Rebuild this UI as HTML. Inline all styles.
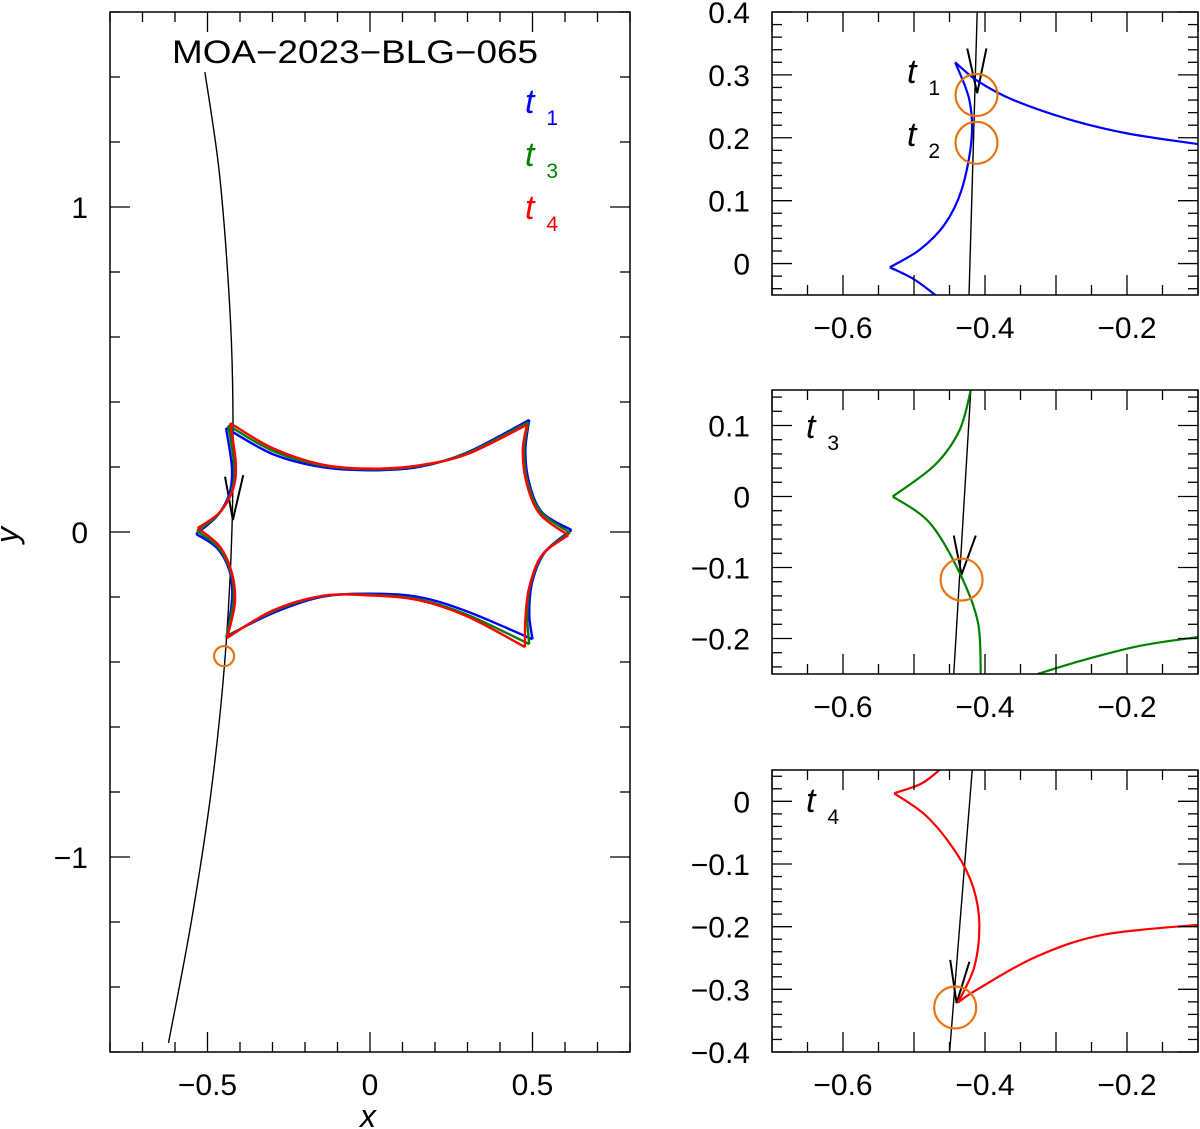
<!DOCTYPE html>
<html><head><meta charset="utf-8"><style>
html,body{margin:0;padding:0;background:#fff}
svg{display:block}
text{font-family:"Liberation Sans",sans-serif;fill:#000}
</style></head><body>
<svg id="fig" width="1200" height="1129" viewBox="0 0 1200 1129"></svg>
<script>
// ---- data (data coordinates) ----
const mainXTicks=[-0.5,0,0.5];
const mainXTickLabels=["\u22120.5","0","0.5"];
const mainYTicks=[1,0,-1];
const mainYTickLabels=["1","0","\u22121"];
const zoomXTicks=[-0.6,-0.4,-0.2];
const zoomXTickLabels=["\u22120.6","\u22120.4","\u22120.2"];
const p1YTicks=[0.4,0.3,0.2,0.1,0];
const p1YTickLabels=["0.4","0.3","0.2","0.1","0"];
const p2YTicks=[0.1,0,-0.1,-0.2];
const p2YTickLabels=["0.1","0","\u22120.1","\u22120.2"];
const p3YTicks=[0,-0.1,-0.2,-0.3,-0.4];
const p3YTickLabels=["0","\u22120.1","\u22120.2","\u22120.3","\u22120.4"];

// main caustics: segments between cusps
const causticBlue=[
 [[-0.535,-0.006],[-0.47,0.05],[-0.432,0.12],[-0.425,0.2],[-0.443,0.32]],
 [[-0.443,0.32],[-0.3,0.24],[-0.15,0.2],[0,0.19],[0.15,0.2],[0.3,0.245],[0.49,0.345]],
 [[0.49,0.345],[0.478,0.25],[0.49,0.15],[0.53,0.06],[0.62,0.006]],
 [[0.62,0.006],[0.54,-0.06],[0.5,-0.15],[0.49,-0.25],[0.5,-0.33]],
 [[0.5,-0.33],[0.3,-0.245],[0.15,-0.2],[0,-0.19],[-0.15,-0.2],[-0.3,-0.25],[-0.44,-0.32]],
 [[-0.44,-0.32],[-0.424,-0.2],[-0.432,-0.12],[-0.47,-0.05],[-0.535,-0.006]]];
const causticGreen=[
 [[-0.532,0.003],[-0.466,0.055],[-0.426,0.125],[-0.418,0.205],[-0.436,0.328]],
 [[-0.436,0.328],[-0.3,0.25],[-0.15,0.205],[0,0.193],[0.15,0.203],[0.3,0.243],[0.487,0.338]],
 [[0.487,0.338],[0.474,0.25],[0.486,0.15],[0.527,0.06],[0.615,-0.002]],
 [[0.615,-0.002],[0.535,-0.065],[0.494,-0.16],[0.484,-0.26],[0.49,-0.345]],
 [[0.49,-0.345],[0.3,-0.255],[0.15,-0.207],[0,-0.193],[-0.15,-0.198],[-0.3,-0.245],[-0.442,-0.324]],
 [[-0.442,-0.324],[-0.42,-0.21],[-0.428,-0.125],[-0.466,-0.048],[-0.532,0.003]]];
const causticRed=[
 [[-0.53,0.012],[-0.463,0.06],[-0.422,0.13],[-0.413,0.21],[-0.43,0.335]],
 [[-0.43,0.335],[-0.3,0.258],[-0.15,0.208],[0,0.195],[0.15,0.205],[0.3,0.24],[0.483,0.33]],
 [[0.483,0.33],[0.47,0.25],[0.482,0.15],[0.523,0.055],[0.61,-0.01]],
 [[0.61,-0.01],[0.53,-0.07],[0.49,-0.17],[0.478,-0.27],[0.477,-0.354]],
 [[0.477,-0.354],[0.3,-0.26],[0.15,-0.21],[0,-0.195],[-0.15,-0.197],[-0.3,-0.242],[-0.44,-0.326]],
 [[-0.44,-0.326],[-0.416,-0.22],[-0.424,-0.13],[-0.462,-0.045],[-0.53,0.012]]];
const mainTrajectory=[[-0.508,1.415],[-0.463,1.1],[-0.432,0.7],[-0.422,0.4],[-0.425,0],[-0.447,-0.4],[-0.489,-0.8],[-0.55,-1.2],[-0.62,-1.572]];
const mainArrow=[[-0.446,0.17],[-0.422,0.037],[-0.39,0.175]];
const mainSource=[-0.449,-0.382];

// zoom panel 1 (t1, t2) — blue
const p1Caustic=[
 [[-0.47,-0.05],[-0.5,-0.025],[-0.534,-0.006]],
 [[-0.534,-0.006],[-0.492,0.022],[-0.457,0.062],[-0.433,0.117],[-0.419,0.197],[-0.422,0.26],[-0.442,0.32]],
 [[-0.442,0.32],[-0.41,0.29],[-0.36,0.26],[-0.281,0.229],[-0.2,0.207],[-0.1,0.19]]];
const p1Trajectory=[[-0.411,0.4],[-0.4225,-0.05]];
const p1Arrow=[[-0.425,0.342],[-0.411,0.271],[-0.398,0.342]];
const p1Sources=[[-0.412,0.268],[-0.412,0.192]];

// zoom panel 2 (t3) — green
const p2Caustic=[
 [[-0.42,0.15],[-0.436,0.093],[-0.471,0.044],[-0.53,0.0]],
 [[-0.53,0.0],[-0.478,-0.037],[-0.436,-0.107],[-0.41,-0.177],[-0.406,-0.25]],
 [[-0.326,-0.25],[-0.26,-0.23],[-0.18,-0.21],[-0.1,-0.198]]];
const p2Trajectory=[[-0.42,0.15],[-0.444,-0.25]];
const p2Arrow=[[-0.444,-0.055],[-0.433,-0.11],[-0.413,-0.055]];
const p2Source=[-0.433,-0.117];

// zoom panel 3 (t4) — red
const p3Caustic=[
 [[-0.464,0.05],[-0.49,0.028],[-0.528,0.0128]],
 [[-0.528,0.0128],[-0.482,-0.024],[-0.44,-0.083],[-0.417,-0.136],[-0.408,-0.195],[-0.415,-0.264],[-0.438,-0.321]],
 [[-0.438,-0.321],[-0.412,-0.301],[-0.328,-0.248],[-0.234,-0.213],[-0.1,-0.197]]];
const p3Trajectory=[[-0.418,0.05],[-0.45,-0.402]];
const p3Arrow=[[-0.449,-0.253],[-0.44,-0.322],[-0.422,-0.256]];
const p3Source=[-0.442,-0.329];

// ---- drawing ----
const NS="http://www.w3.org/2000/svg";
const svg=document.getElementById('fig');
function el(tag,attrs,parent){const e=document.createElementNS(NS,tag);for(const k in attrs)e.setAttribute(k,attrs[k]);(parent||svg).appendChild(e);return e;}
function scale(d0,d1,r0,r1){return v=>r0+(v-d0)/(d1-d0)*(r1-r0);}
function spline(pts,sx,sy){
  const p=pts.map(q=>[sx(q[0]),sy(q[1])]);
  if(p.length===2)return `M${p[0][0]},${p[0][1]}L${p[1][0]},${p[1][1]}`;
  let d=`M${p[0][0].toFixed(2)},${p[0][1].toFixed(2)}`;
  for(let i=0;i<p.length-1;i++){
    const p0=p[i-1]||p[i],p1=p[i],p2=p[i+1],p3=p[i+2]||p2;
    const c1=[p1[0]+(p2[0]-p0[0])/6,p1[1]+(p2[1]-p0[1])/6];
    const c2=[p2[0]-(p3[0]-p1[0])/6,p2[1]-(p3[1]-p1[1])/6];
    d+=`C${c1[0].toFixed(2)},${c1[1].toFixed(2)} ${c2[0].toFixed(2)},${c2[1].toFixed(2)} ${p2[0].toFixed(2)},${p2[1].toFixed(2)}`;
  }
  return d;
}
let clipN=0;
function panel(name,box,xd,yd,opts){
  const g=el('g',{});
  
  
  const sx=scale(xd[0],xd[1],box.x0,box.x1), sy=scale(yd[0],yd[1],box.y1,box.y0);
  const id='clip'+(clipN++);
  const cp=el('clipPath',{id},g);el('rect',{x:box.x0,y:box.y0,width:box.x1-box.x0,height:box.y1-box.y0},cp);
  const plot=el('g',{'clip-path':`url(#${id})`},g);
  
  
  const tk=el('g',{stroke:'#000','stroke-width':1.3},g);
  
  
  const eps=1e-9;
  for(let v=Math.ceil(xd[0]/opts.xMinor-eps)*opts.xMinor;v<=xd[1]+eps;v+=opts.xMinor){
    const r=Math.abs(v/opts.xMajor-Math.round(v/opts.xMajor))<1e-6;const L=r?20:10;const X=sx(v);
    el('line',{x1:X,x2:X,y1:box.y1,y2:box.y1-L},tk);el('line',{x1:X,x2:X,y1:box.y0,y2:box.y0+L},tk);
  }
  for(let v=Math.ceil(yd[0]/opts.yMinor-eps)*opts.yMinor;v<=yd[1]+eps;v+=opts.yMinor){
    const r=Math.abs(v/opts.yMajor-Math.round(v/opts.yMajor))<1e-6;const L=r?20:10;const Y=sy(v);
    el('line',{y1:Y,y2:Y,x1:box.x0,x2:box.x0+L},tk);el('line',{y1:Y,y2:Y,x1:box.x1,x2:box.x1-L},tk);
  }
  const fr=el('rect',{x:box.x0,y:box.y0,width:box.x1-box.x0,height:box.y1-box.y0,fill:'none',stroke:'#000','stroke-width':1.5},g);
  
  
  opts.xTicks.forEach((v,i)=>{
    const t=el('text',{x:sx(v),y:box.y1+43,'font-size':30,'text-anchor':'middle'},g);t.textContent=opts.xLabels[i];
    
    
  });
  opts.yTicks.forEach((v,i)=>{
    const t=el('text',{x:box.x0-22,y:sy(v)+11,'font-size':30,'text-anchor':'end'},g);t.textContent=opts.yLabels[i];
    
    
  });
  return {g,plot,sx,sy};
}
function curve(P,segs,color,w,name){
  segs.forEach(s=>{const p=el('path',{d:spline(s,P.sx,P.sy),fill:'none',stroke:color,'stroke-width':w},P.plot);
    
    });
}
function traj(P,pts,arrow){
  const p=el('path',{d:spline(pts,P.sx,P.sy),fill:'none',stroke:'#000','stroke-width':1.4},P.plot);
  
  
  const a=el('path',{d:arrow.map((q,i)=>(i?'L':'M')+P.sx(q[0])+','+P.sy(q[1])).join(''),fill:'none',stroke:'#000','stroke-width':2},P.plot);
  
  
}
function source(P,c,r){
  const s=el('circle',{cx:P.sx(c[0]),cy:P.sy(c[1]),r,fill:'none',stroke:'#e87410','stroke-width':2.2},P.plot);
  
  
}
function label(x,y,sub,color,size,name){
  const t=el('text',{x,y,'font-family':'"Liberation Serif",serif','font-size':size,fill:color});
  
  
  const a=el('tspan',{'font-style':'italic',fill:color},t);a.textContent='t';
  const b=el('tspan',{dx:size*0.35,dy:size*0.35,'font-size':size*0.62,fill:color},t);b.textContent=sub;
}

const M=panel('main-panel',{x0:110,x1:630,y0:12,y1:1052},[-0.8,0.8],[-1.6,1.6],
 {xMinor:0.1,xMajor:0.5,yMinor:0.2,yMajor:1,xTicks:mainXTicks,xLabels:mainXTickLabels,yTicks:mainYTicks,yLabels:mainYTickLabels});
traj(M,mainTrajectory,mainArrow);
curve(M,causticBlue,'#0000ff',2.4,'caustic-t1');
curve(M,causticGreen,'#008000',2.4,'caustic-t3');
curve(M,causticRed,'#ff0000',2.4,'caustic-t4');
source(M,mainSource,10);
const ttl=el('text',{x:172,y:63,'font-family':'"Liberation Mono",monospace','font-size':32,textLength:366,lengthAdjust:'spacingAndGlyphs'});
ttl.textContent='MOA\u22122023\u2212BLG\u2212065';


label(525,113,'1','#0000ff',34,'legend-t1');
label(525,166,'3','#008000',34,'legend-t3');
label(525,219,'4','#ff0000',34,'legend-t4');
const xl=el('text',{x:368,y:1127,'font-family':'"Liberation Serif",serif','font-style':'italic','font-size':32,'text-anchor':'middle'});
xl.textContent='x';
const yl=el('text',{x:0,y:0,'font-family':'"Liberation Serif",serif','font-style':'italic','font-size':32,'text-anchor':'middle',transform:'translate(18,535) rotate(-90)'});
yl.textContent='y';

const zx={xMinor:0.05,xMajor:0.1,yMinor:0.02,yMajor:0.1,xTicks:zoomXTicks,xLabels:zoomXTickLabels};
const P1=panel('zoom-panel-t1-t2',{x0:772,x1:1198,y0:12,y1:295},[-0.7,-0.1],[-0.05,0.4],Object.assign({},zx,{yTicks:p1YTicks,yLabels:p1YTickLabels}));
traj(P1,p1Trajectory,p1Arrow);
curve(P1,p1Caustic,'#0000ff',2.2,'caustic-t1');
p1Sources.forEach(c=>source(P1,c,21));
label(907,83,'1','#000',34,'label-t1');
label(907,146,'2','#000',34,'label-t2');

const P2=panel('zoom-panel-t3',{x0:772,x1:1198,y0:390,y1:674},[-0.7,-0.1],[-0.25,0.15],Object.assign({},zx,{yTicks:p2YTicks,yLabels:p2YTickLabels}));
traj(P2,p2Trajectory,p2Arrow);
curve(P2,p2Caustic,'#008000',2.2,'caustic-t3');
source(P2,p2Source,21);
label(806,438,'3','#000',34,'label-t3');

const P3=panel('zoom-panel-t4',{x0:772,x1:1198,y0:770,y1:1052},[-0.7,-0.1],[-0.4,0.05],Object.assign({},zx,{yTicks:p3YTicks,yLabels:p3YTickLabels}));
traj(P3,p3Trajectory,p3Arrow);
curve(P3,p3Caustic,'#ff0000',2.2,'caustic-t4');
source(P3,p3Source,21);
label(806,812,'4','#000',34,'label-t4');
</script>
</body></html>
